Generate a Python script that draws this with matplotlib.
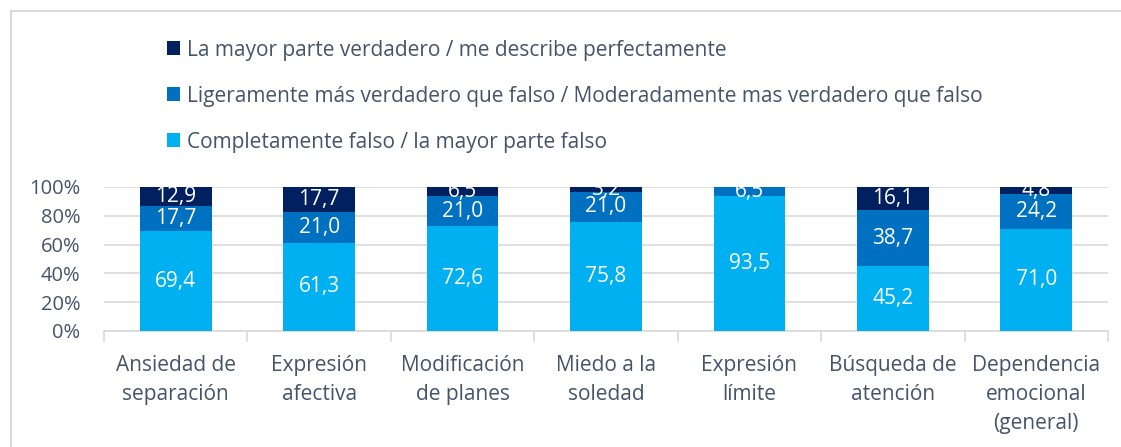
import matplotlib.pyplot as plt
import numpy as np
from matplotlib.patches import Rectangle

# categorias y valores (%)
categorias = ['Ansiedad de\nseparación', 'Expresión\nafectiva', 'Modificación\nde planes',
              'Miedo a la\nsoledad', 'Expresión\nlímite', 'Búsqueda de\natención',
              'Dependencia\nemocional\n(general)']
completamente_falso = [69.4, 61.3, 72.6, 75.8, 93.5, 45.2, 71.0]
ligeramente_mas = [17.7, 21.0, 21.0, 21.0, 6.5, 38.7, 24.2]
mayor_parte_verdadero = [12.9, 17.7, 6.5, 3.2, 0.0, 16.1, 4.8]

series = [
    ('Completamente falso / la mayor parte falso', completamente_falso, '#00B0F0'),
    ('Ligeramente más verdadero que falso / Moderadamente mas verdadero que falso', ligeramente_mas, '#0070C0'),
    ('La mayor parte verdadero / me describe perfectamente', mayor_parte_verdadero, '#002060'),
]

plt.rcParams['font.family'] = ['Open Sans', 'DejaVu Sans']
texto = '#44546A'
fs = 15

fig = plt.figure(figsize=(11.21, 4.47), dpi=100)
ax = fig.add_axes([104 / 1121, 1 - 331 / 447, 1004 / 1121, 144 / 447])

# borde del area del grafico
fig.patches.append(Rectangle((11 / 1121, -0.05), 1.1, 1 - 11 / 447 + 0.05, transform=fig.transFigure,
                             fill=False, edgecolor='#D9D9D9', linewidth=1.5))

x = np.arange(len(categorias))
base = np.zeros(len(categorias))
handles = []
for nombre, valores, color in series:
    valores = np.array(valores)
    b = ax.bar(x, valores, width=0.5, bottom=base, color=color, label=nombre, zorder=3)
    handles.append(b)
    for xi, v, bo in zip(x, valores, base):
        if v > 0:
            ax.text(xi, bo + v / 2, f'{v:.1f}'.replace('.', ','), ha='center', va='center',
                    color='white', fontsize=fs, zorder=4)
    base += valores

ax.set_xlim(-0.5, len(categorias) - 0.5)
ax.set_ylim(0, 100)
ax.set_yticks(np.arange(0, 101, 20))
ax.set_yticklabels([f'{v}%' for v in range(0, 101, 20)])
ax.yaxis.grid(True, color='#D9D9D9', linewidth=1.2, zorder=0)
ax.tick_params(axis='y', length=0, labelsize=14.5, labelcolor=texto, pad=17)

ax.set_xticks(x)
ax.set_xticklabels(categorias, linespacing=1.5)
ax.tick_params(axis='x', length=0, labelsize=fs, labelcolor=texto, pad=17)
ax.set_xticks(np.arange(-0.5, len(categorias)), minor=True)
ax.tick_params(axis='x', which='minor', length=8, color='#D9D9D9', width=1.2)

for s in ['left', 'right', 'top']:
    ax.spines[s].set_visible(False)
ax.spines['bottom'].set_color('#D9D9D9')
ax.spines['bottom'].set_linewidth(1.2)

leg = fig.legend(handles[::-1], [s[0] for s in series[::-1]], loc='upper left',
                 bbox_to_anchor=(148 / 1121, 1 - 21 / 447), frameon=False, fontsize=fs,
                 labelcolor=texto, labelspacing=1.2, handlelength=0.65, handleheight=0.65,
                 handletextpad=0.3)

fig.savefig('out.png', dpi=100)
